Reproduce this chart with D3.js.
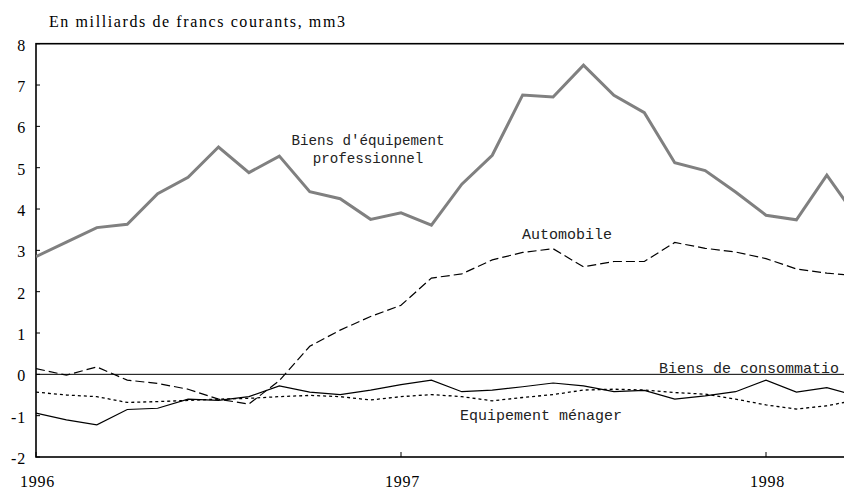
<!DOCTYPE html>
<html lang="fr">
<head>
<meta charset="UTF-8">
<title>Biens: mm3</title>
<script src="https://d3js.org/d3.v7.min.js"></script>
<style>
  body { margin: 0; background: #fff; }
  svg { display: block; }
  .tick-label { font-family: "Liberation Serif", "Times New Roman", serif; font-size: 16px; letter-spacing: 0.8px; fill: #000; }
  .title { font-family: "Liberation Serif", "Times New Roman", serif; font-size: 16px; letter-spacing: 1.6px; fill: #000; }
  .serie-label { font-family: "Liberation Mono", "Courier New", monospace; font-size: 15px; fill: #222; }
</style>
</head>
<body>
<svg width="844" height="491"></svg>
<script>
// mois de janvier 1996 a avril 1998 (index 0 = janvier 1996)
const moisIndex = d3.range(28);
const annees = ["1996", "1997", "1998"];
const anneesIndex = [0, 12, 24];
const yTicks = [-2, -1, 0, 1, 2, 3, 4, 5, 6, 7, 8];

const equipPro = [2.85, 3.2, 3.55, 3.63, 4.37, 4.77, 5.5, 4.88, 5.28, 4.42, 4.25, 3.75,
                  3.91, 3.61, 4.6, 5.3, 6.76, 6.71, 7.48, 6.75, 6.33, 5.12, 4.93, 4.41,
                  3.85, 3.74, 4.82, 3.78];
const automobile = [0.14, -0.02, 0.18, -0.14, -0.22, -0.36, -0.6, -0.72, -0.15, 0.68, 1.07, 1.4,
                    1.67, 2.33, 2.43, 2.77, 2.95, 3.04, 2.6, 2.73, 2.73, 3.19, 3.05, 2.96,
                    2.8, 2.55, 2.45, 2.38];
const consommation = [-0.94, -1.1, -1.22, -0.85, -0.82, -0.6, -0.63, -0.54, -0.28, -0.43, -0.49, -0.38,
                      -0.25, -0.14, -0.42, -0.38, -0.3, -0.21, -0.28, -0.42, -0.39, -0.6, -0.52, -0.42,
                      -0.14, -0.43, -0.32, -0.53];
const menager = [-0.43, -0.5, -0.54, -0.68, -0.66, -0.63, -0.6, -0.58, -0.54, -0.51, -0.54, -0.62,
                 -0.54, -0.49, -0.54, -0.64, -0.56, -0.49, -0.38, -0.36, -0.38, -0.44, -0.48, -0.6,
                 -0.74, -0.84, -0.76, -0.62];

const svg = d3.select("svg");

const x = d3.scaleLinear().domain([0, 24]).range([36, 766]);
const y = d3.scaleLinear().domain([-2, 8]).range([457, 43.7]);

const pLeft = x(0), pRight = x(27), pTop = y(8), pBottom = y(-2);

const defs = svg.append("defs");
defs.append("clipPath").attr("id", "plot")
  .append("rect").attr("x", pLeft).attr("y", pTop)
  .attr("width", pRight - pLeft).attr("height", pBottom - pTop);

// texte du libelle coupe a droite comme dans l'original
defs.append("clipPath").attr("id", "boite")
  .append("rect").attr("x", 280).attr("y", 120).attr("width", 166.5).attr("height", 60);

// titre
svg.append("text").attr("class", "title")
  .attr("x", 49).attr("y", 26.5)
  .text("En milliards de francs courants, mm3");

// cadre
svg.append("rect")
  .attr("x", pLeft).attr("y", pTop)
  .attr("width", pRight - pLeft).attr("height", pBottom - pTop)
  .attr("fill", "none").attr("stroke", "#000").attr("stroke-width", 1.6);

// ligne du zero
svg.append("line")
  .attr("x1", pLeft).attr("x2", pRight)
  .attr("y1", y(0)).attr("y2", y(0))
  .attr("stroke", "#000").attr("stroke-width", 1);

// graduations verticales
svg.selectAll(".ytick").data(yTicks).enter().append("line")
  .attr("class", "ytick")
  .attr("x1", pLeft).attr("x2", pLeft + 4)
  .attr("y1", d => y(d)).attr("y2", d => y(d))
  .attr("stroke", "#000").attr("stroke-width", 1);

svg.selectAll(".ylab").data(yTicks).enter().append("text")
  .attr("class", "tick-label")
  .attr("x", 26).attr("y", d => y(d) + 7)
  .attr("text-anchor", "end")
  .text(d => d);

// graduations horizontales
svg.selectAll(".xtick").data(anneesIndex).enter().append("line")
  .attr("class", "xtick")
  .attr("x1", d => x(d)).attr("x2", d => x(d))
  .attr("y1", pBottom).attr("y2", pBottom - 5)
  .attr("stroke", "#000").attr("stroke-width", 1);

svg.selectAll(".xlab").data(anneesIndex).enter().append("text")
  .attr("class", "tick-label")
  .attr("x", d => x(d) + 1.5).attr("y", 487)
  .attr("text-anchor", "middle")
  .text((d, i) => annees[i]);

// series
const line = d3.line().x((d, i) => x(moisIndex[i])).y(d => y(d));
const plot = svg.append("g").attr("clip-path", "url(#plot)");

const series = [
  { data: menager, color: "#000", width: 1.3, dash: "3,3" },
  { data: consommation, color: "#000", width: 1.2, dash: null },
  { data: automobile, color: "#000", width: 1.2, dash: "9,4" },
  { data: equipPro, color: "#808080", width: 3, dash: null }
];

plot.selectAll(".serie").data(series).enter().append("path")
  .attr("class", "serie")
  .attr("d", d => line(d.data))
  .attr("fill", "none")
  .attr("stroke", d => d.color)
  .attr("stroke-width", d => d.width)
  .attr("stroke-dasharray", d => d.dash)
  .attr("stroke-linejoin", "miter");

// libelles
const lib = svg.append("g").attr("clip-path", "url(#boite)");
lib.append("text").attr("class", "serie-label")
  .style("font-size", "14.2px")
  .attr("x", 368).attr("y", 145).attr("text-anchor", "middle")
  .text("Biens d'équipement");
lib.append("text").attr("class", "serie-label")
  .style("font-size", "14.2px")
  .attr("x", 368).attr("y", 163).attr("text-anchor", "middle")
  .text("professionnel");

svg.append("text").attr("class", "serie-label")
  .attr("x", 522).attr("y", 239).text("Automobile");
svg.append("text").attr("class", "serie-label")
  .attr("x", 659).attr("y", 373).text("Biens de consommatio");
svg.append("text").attr("class", "serie-label")
  .attr("x", 460).attr("y", 420).text("Equipement ménager");
</script>
</body>
</html>
